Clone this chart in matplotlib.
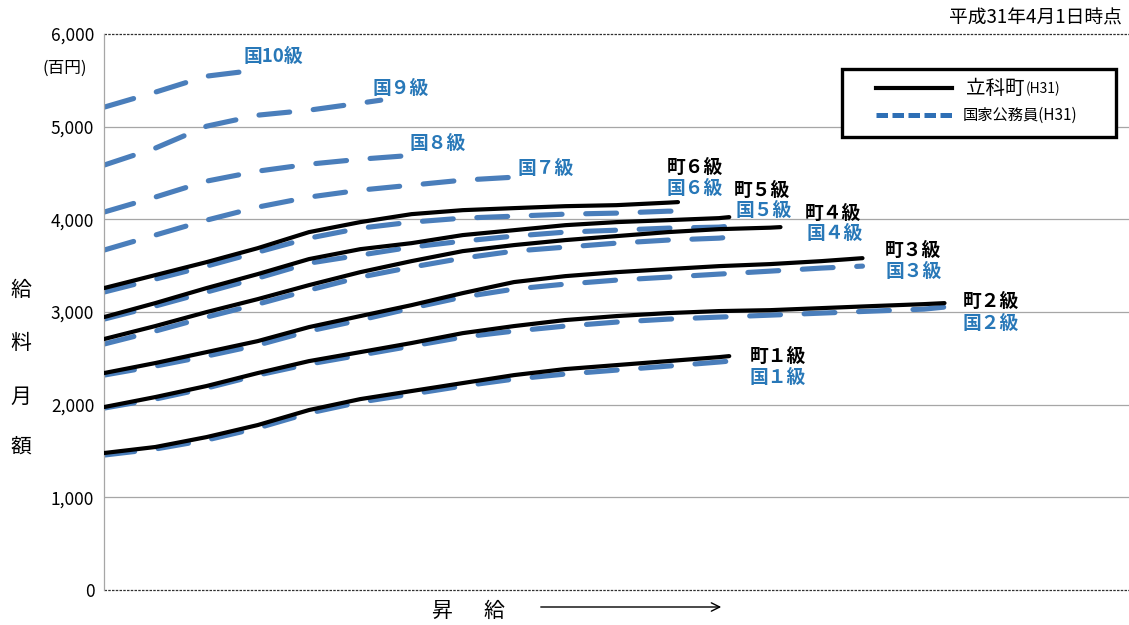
import matplotlib
matplotlib.use("Agg")
import matplotlib.pyplot as plt
from matplotlib.patches import Rectangle, FancyArrowPatch
from matplotlib.lines import Line2D

plt.rcParams['font.family'] = ['Noto Sans CJK JP', 'DejaVu Sans']

# ---------------- data ----------------
# x = 昇給 steps (号俸 progression, arbitrary units), y = 給料月額 (百円)
town6_x = [0, 5, 10, 15, 20, 25, 30, 35, 40, 45, 50, 55, 56]
town6_y = [3258, 3398, 3538, 3689, 3862, 3970, 4056, 4099, 4121, 4142, 4153, 4180, 4186]
nat6_x = [0, 5, 10, 15, 20, 25, 30, 35, 40, 45, 50, 55, 56]
nat6_y = [3215, 3355, 3495, 3646, 3797, 3905, 3970, 4013, 4034, 4056, 4067, 4088, 4088]

town5_x = [0, 5, 10, 15, 20, 25, 30, 35, 40, 45, 50, 55, 60, 61]
town5_y = [2945, 3096, 3258, 3409, 3571, 3678, 3743, 3830, 3883, 3937, 3970, 3991, 4013, 4024]
nat5_x = [0, 5, 10, 15, 20, 25, 30, 35, 40, 45, 50, 55, 60, 61]
nat5_y = [2923, 3064, 3215, 3366, 3527, 3614, 3700, 3765, 3819, 3862, 3883, 3905, 3916, 3927]

town4_x = [0, 5, 10, 15, 20, 25, 30, 35, 40, 45, 50, 55, 60, 65, 66]
town4_y = [2708, 2848, 2999, 3139, 3290, 3430, 3549, 3657, 3722, 3776, 3819, 3862, 3894, 3910, 3916]
nat4_x = [0, 5, 10, 15, 20, 25, 30, 35, 40, 45, 50, 55, 60, 61]
nat4_y = [2654, 2794, 2945, 3085, 3236, 3376, 3484, 3581, 3657, 3700, 3743, 3776, 3797, 3808]

town3_x = [0, 5, 10, 15, 20, 25, 30, 35, 40, 45, 50, 55, 60, 65, 70, 74]
town3_y = [2341, 2449, 2567, 2686, 2837, 2956, 3074, 3204, 3323, 3387, 3430, 3463, 3495, 3517, 3549, 3581]
nat3_x = [0, 5, 10, 15, 20, 25, 30, 35, 40, 45, 50, 55, 60, 65, 70, 74]
nat3_y = [2319, 2416, 2524, 2643, 2794, 2913, 3042, 3161, 3247, 3301, 3344, 3376, 3409, 3441, 3474, 3495]

town2_x = [0, 5, 10, 15, 20, 25, 30, 35, 40, 45, 50, 55, 60, 65, 70, 75, 80, 82]
town2_y = [1974, 2082, 2201, 2341, 2470, 2567, 2665, 2772, 2848, 2913, 2956, 2988, 3010, 3020, 3042, 3064, 3085, 3096]
nat2_x = [0, 5, 10, 15, 20, 25, 30, 35, 40, 45, 50, 55, 60, 65, 70, 75, 80, 82]
nat2_y = [1963, 2060, 2179, 2319, 2438, 2535, 2632, 2729, 2794, 2848, 2891, 2923, 2945, 2966, 2988, 3010, 3031, 3053]

town1_x = [0, 5, 10, 15, 20, 25, 30, 35, 40, 45, 50, 55, 60, 61]
town1_y = [1478, 1543, 1650, 1780, 1942, 2060, 2147, 2233, 2319, 2384, 2427, 2470, 2513, 2524]
nat1_x = [0, 5, 10, 15, 20, 25, 30, 35, 40, 45, 50, 55, 60, 61]
nat1_y = [1456, 1521, 1618, 1748, 1909, 2028, 2114, 2201, 2276, 2330, 2373, 2416, 2460, 2470]

nat7_x = [0, 5, 10, 15, 20, 25, 30, 35, 40]
nat7_y = [3668, 3830, 3991, 4132, 4240, 4315, 4369, 4423, 4455]
nat8_x = [0, 5, 10, 15, 20, 25, 29]
nat8_y = [4078, 4240, 4412, 4520, 4595, 4649, 4682]
nat9_x = [0, 5, 10, 15, 20, 25, 27]
nat9_y = [4585, 4768, 5005, 5124, 5178, 5254, 5286]
nat10_x = [0, 5, 10, 14]
nat10_y = [5210, 5372, 5545, 5599]

yticks = [0, 1000, 2000, 3000, 4000, 5000, 6000]
ytick_labels = ['0', '1,000', '2,000', '3,000', '4,000', '5,000', '6,000']

label_texts = ['国10級', '国９級', '国８級', '国７級',
               '町６級', '国６級', '町５級', '国５級', '町４級', '国４級',
               '町３級', '国３級', '町２級', '国２級', '町１級', '国１級']
label_x = [13.6, 26.2, 29.8, 40.3, 54.9, 54.9, 61.4, 61.6, 68.4, 68.5,
           76.2, 76.2, 83.8, 83.8, 63.0, 63.0]
label_y = [5760, 5415, 4822, 4552, 4560, 4337, 4315, 4099, 4067, 3851,
           3668, 3441, 3118, 2880, 2524, 2297]

# ---------------- figure ----------------
W, H = 1129, 625
fig = plt.figure(figsize=(W / 100, H / 100), dpi=100)
ax = fig.add_axes([104 / W, 1 - 590 / H, 1 - 104 / W, (590 - 34) / H])
ax.set_xlim(0, 100)
ax.set_ylim(0, 6000)

BLUE = '#4A7EBB'
TBLUE = '#2878B8'

for yv in [1000, 2000, 3000, 4000, 5000]:
    ax.axhline(yv, color='#A6A6A6', lw=0.9, zorder=0)
ax.axhline(6000, color='#303030', lw=0.9, ls=(0, (2, 1)), zorder=0, clip_on=False)
ax.axhline(0, color='#303030', lw=0.9, ls=(0, (2, 1)), zorder=0, clip_on=False)

for s in ['top', 'right', 'bottom']:
    ax.spines[s].set_visible(False)
ax.spines['left'].set_color('#A6A6A6')
ax.spines['left'].set_linewidth(0.9)

ax.set_xticks([])
ax.set_yticks(yticks)
ax.set_yticklabels(ytick_labels, fontsize=12.5)
ax.tick_params(axis='y', length=0, pad=7)

dash_kw = dict(color=BLUE, lw=3.7, dashes=(6.0, 4.6), dash_capstyle='round',
               solid_capstyle='round', zorder=2)
solid_kw = dict(color='black', lw=3.0, solid_capstyle='round', zorder=3)

nat = [(nat10_x, nat10_y), (nat9_x, nat9_y), (nat8_x, nat8_y), (nat7_x, nat7_y),
       (nat6_x, nat6_y), (nat5_x, nat5_y), (nat4_x, nat4_y), (nat3_x, nat3_y),
       (nat2_x, nat2_y), (nat1_x, nat1_y)]
town = [(town6_x, town6_y), (town5_x, town5_y), (town4_x, town4_y),
        (town3_x, town3_y), (town2_x, town2_y), (town1_x, town1_y)]
for xs, ys in nat:
    ax.plot(xs, ys, **dash_kw)
for xs, ys in town:
    ax.plot(xs, ys, **solid_kw)

for t, x, y in zip(label_texts, label_x, label_y):
    c = 'black' if t.startswith('町') else TBLUE
    ax.text(x, y, t, color=c, fontsize=13.5, fontweight='bold', va='center',
            ha='left', zorder=5)

# ---------------- outside texts ----------------
def fx(px):
    return px / W

def fy(py):
    return 1 - py / H

fig.text(fx(1122), fy(18), '平成31年4月1日時点', fontsize=13.5, ha='right', va='center')
fig.text(fx(87), fy(68), '(百円)', fontsize=12, ha='right', va='center')
for ch, py in zip(['給', '料', '月', '額'], [290, 343, 397, 447]):
    fig.text(fx(21), fy(py), ch, fontsize=15, ha='center', va='center')

fig.text(fx(442), fy(611), '昇', fontsize=15, ha='center', va='center')
fig.text(fx(494), fy(611), '給', fontsize=15, ha='center', va='center')
fig.add_artist(FancyArrowPatch(
    (fx(538), fy(607)), (fx(724), fy(607)), transform=fig.transFigure,
    arrowstyle='->,head_length=6,head_width=3', color='black', lw=1.0))

# legend (drawn manually)
fig.add_artist(Rectangle((fx(842), fy(137)), (1116 - 842) / W, (137 - 69) / H,
                         transform=fig.transFigure, facecolor='white',
                         edgecolor='black', lw=2.4, zorder=10))
fig.add_artist(Line2D([fx(876), fx(952)], [fy(88), fy(88)], transform=fig.transFigure,
                      color='black', lw=3.0, zorder=11))
fig.add_artist(Line2D([fx(876), fx(952)], [fy(115), fy(115)], transform=fig.transFigure,
                      color='#2E6FB5', lw=3.6, dashes=(2.3, 0.9), zorder=11))
fig.text(fx(966), fy(88), '立科町', fontsize=14, ha='left', va='center', zorder=12)
fig.text(fx(1026), fy(89), '(H31)', fontsize=10, ha='left', va='center', zorder=12)
fig.text(fx(963), fy(115), '国家公務員(H31)', fontsize=11, ha='left', va='center', zorder=12)

fig.savefig('out.png', dpi=100)
